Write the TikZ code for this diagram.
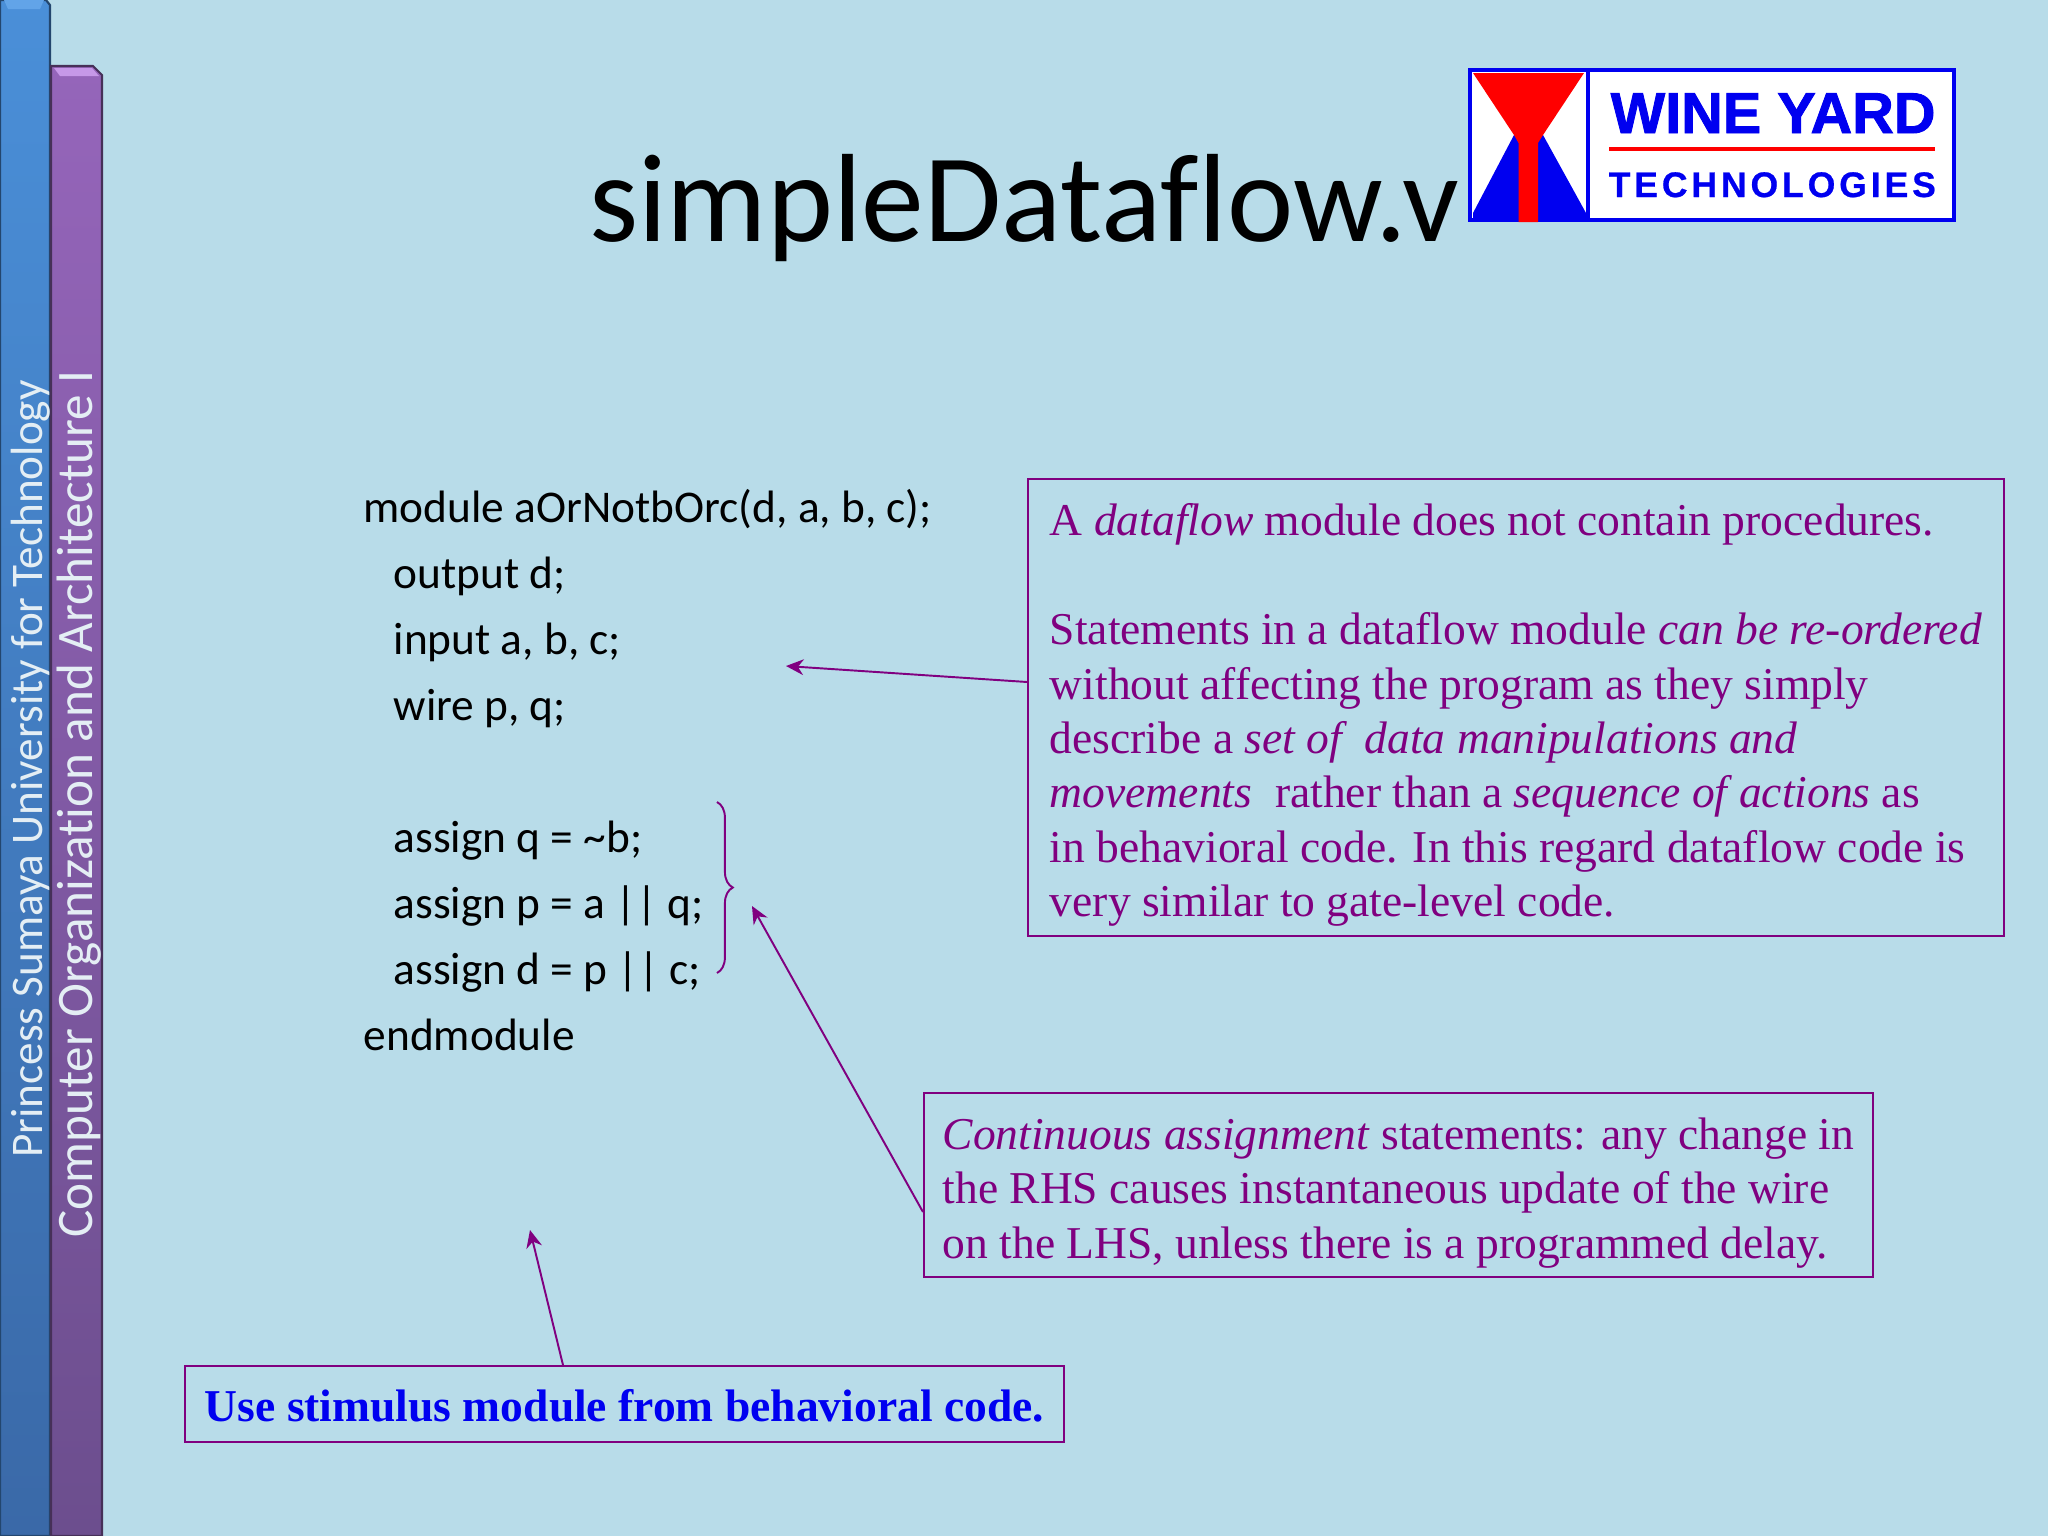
\documentclass[tikz,border=0pt]{standalone}
\usepackage{fontspec}
\setmainfont{Liberation Serif}
\newfontfamily\calibrifont[Ligatures=NoCommon]{Carlito}
\newfontfamily\logofont[BoldFeatures={FakeBold=1.5}]{Liberation Sans}
\newfontfamily\logospaced[LetterSpace=11,BoldFeatures={FakeBold=0.6}]{Liberation Sans}
\usetikzlibrary{arrows.meta,decorations.pathreplacing}
\definecolor{slidebg}{HTML}{B8DCE9}
\definecolor{notepurple}{HTML}{800080}
\definecolor{logoblue}{HTML}{0000F0}
\definecolor{logored}{HTML}{FF0000}
\definecolor{bluetop}{HTML}{4A8FD8}
\definecolor{bluebot}{HTML}{3A69A8}
\definecolor{bluehi}{HTML}{62A4E8}
\definecolor{blueedge}{HTML}{23466E}
\definecolor{purpletop}{HTML}{9565BA}
\definecolor{purplebot}{HTML}{6C4E8E}
\definecolor{purplehi}{HTML}{C698E8}
\definecolor{purpleedge}{HTML}{463058}
\definecolor{sidewhite}{HTML}{E4EEF4}
\tikzset{
    notebox/.style={draw=notepurple,line width=0.55pt,text=notepurple,anchor=north west,align=left,inner xsep=5pt,inner ysep=0pt,font=\fontsize{12.95}{15.47}\selectfont},
    notearrow/.style={draw=notepurple,line width=0.55pt,-{Stealth[length=5pt,width=4.5pt]}},
    codeline/.style={anchor=base west,inner sep=0pt,font=\calibrifont\fontsize{12.9}{16}\selectfont},
    sidetext/.style={rotate=90,inner sep=0pt,text=sidewhite},
}
\begin{document}
\begin{tikzpicture}[x=0.01cm,y=-0.01cm]
    \useasboundingbox (0,0) rectangle (2048,1536);
    \fill[slidebg] (0,0) rectangle (2048,1536);

    % side bars
    \draw[draw=blueedge,line width=0.6pt,top color=bluetop,bottom color=bluebot]
        (0,0) -- (46,0) -- (50,5) -- (50,1536) -- (0,1536) -- cycle;
    \fill[bluehi] (4,0) -- (44,0) -- (40,9) -- (8,9) -- cycle;
    \draw[draw=purpleedge,line width=0.6pt,top color=purpletop,bottom color=purplebot]
        (51,66) -- (93,66) -- (102,75) -- (102,1536) -- (51,1536) -- cycle;
    \fill[purplehi] (54,68) -- (92,68) -- (99,76) -- (60,76) -- cycle;
    \node[sidetext,font=\calibrifont\fontsize{12.85}{15}\selectfont] (sumaya) at (31,769) {Princess Sumaya University for Technology};
    \node[sidetext,font=\calibrifont\fontsize{14.55}{17}\selectfont] (course) at (79,804) {Computer Organization and Architecture I};

    % title
    \node[anchor=base,inner sep=0pt,font=\calibrifont\fontsize{35.7}{40}\selectfont] (title) at (1024,241) {simpleDataflow.v};

    % logo
    \draw[draw=logoblue,fill=white,line width=1.4pt] (1470,70) rectangle (1954,220);
    \draw[draw=logoblue,line width=1.2pt] (1588,70) -- (1588,220);
    \fill[logoblue] (1473,213) -- (1514,135) -- (1543,135) -- (1586,213) -- (1586,220) -- (1473,220) -- cycle;
    \fill[logored] (1473,73) -- (1584,73) -- (1543,135) -- (1538,143) -- (1538,222) -- (1518.5,222) -- (1518.5,143) -- (1514,135) -- cycle;
    \node[anchor=base west,inner sep=0pt,text=logoblue,font=\logofont\bfseries\fontsize{16.4}{18}\selectfont] (wine) at (1610,133) {WINE YARD};
    \fill[logored] (1609,147) rectangle (1935,151);
    \node[anchor=base west,inner sep=0pt,text=logoblue,font=\logospaced\bfseries\fontsize{10.1}{12}\selectfont] (tech) at (1608,197) {TECHNOLOGIES};

    % code
    \node[codeline] (modhead) at (363,522) {module aOrNotbOrc(d, a, b, c);};
    \foreach \ypos/\codetext in {588/output d;,654/{input a, b, c;},720/{wire p, q;},852/{assign q = \textasciitilde b;},918/{assign p = a || q;},984/{assign d = p || c;}}
    {
        \node[codeline] at (393,\ypos) {\codetext};
    }
    \node[codeline] (modend) at (363,1050) {endmodule};
    \draw[notepurple,line width=0.55pt,decorate,decoration={brace,amplitude=4.5pt}] (717,802) -- (717,973);

    % notes
    \node[notebox,minimum width=976*0.01cm,minimum height=457*0.01cm] (dataflow) at (1027,478)
    {\rule{0pt}{13.5pt}A \textit{dataflow} module does not contain procedures.\\[15.47pt]
     Statements in a dataflow module \textit{can be re-ordered}\\
     without affecting the program as they simply\\
     describe a \textit{set of\ \ data manipulations and}\\
     \textit{movements}\ \ rather than a \textit{sequence of actions} as\\
     in behavioral code. In this regard dataflow code is\\
     very similar to gate-level code.};
    \node[notebox,minimum width=949*0.01cm,minimum height=184*0.01cm] (continuous) at (923,1092)
    {\rule{0pt}{13.5pt}\textit{Continuous assignment} statements: any change in\\
     the RHS causes instantaneous update of the wire\\
     on the LHS, unless there is a programmed delay.};
    \node[notebox,text=logoblue,minimum width=879*0.01cm,minimum height=76*0.01cm,font=\bfseries\fontsize{12.95}{15.47}\selectfont] (stimulus) at (184,1365)
    {\rule{0pt}{10.4pt}Use stimulus module from behavioral code.};

    % arrows
    \coordinate (codehead) at (786,666);
    \coordinate (codeassign) at (752,906);
    \coordinate (codestim) at (530,1230);
    \draw[notearrow] (dataflow.west |- 0,682) -- (codehead);
    \draw[notearrow] (continuous.west |- 0,1212) -- (codeassign);
    \draw[notearrow] (stimulus.north -| 563,0) -- (codestim);
\end{tikzpicture}
\end{document}
